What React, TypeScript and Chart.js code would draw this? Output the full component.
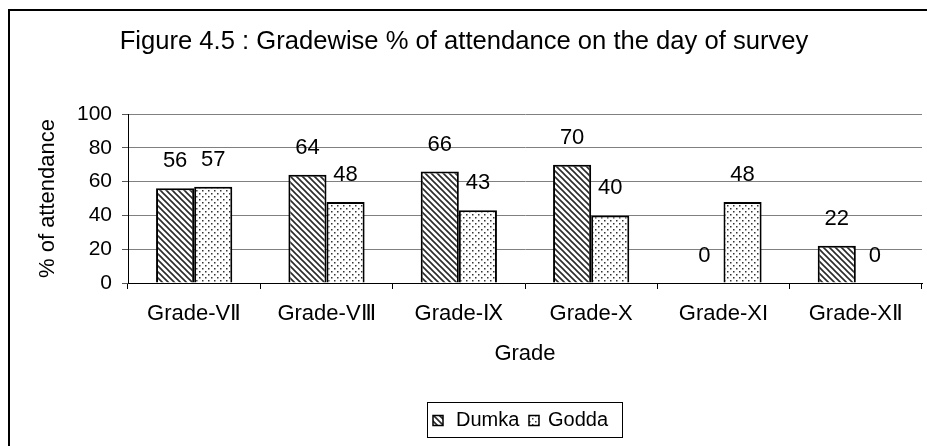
import React, { useEffect, useRef } from "react";
import { Chart, registerables } from "chart.js";

Chart.register(...registerables);

const categories = ["Grade-VⅡ", "Grade-VⅢ", "Grade-Ⅸ", "Grade-X", "Grade-XI", "Grade-XⅡ"];
const dumka = [56, 64, 66, 70, 0, 22];
const godda = [57, 48, 43, 40, 48, 0];
const seriesNames = ["Dumka", "Godda"];
const yTicks = [0, 20, 40, 60, 80, 100];
const titleText = "Figure 4.5 : Gradewise % of attendance on the day of survey";
const yTitle = "% of attendance";
const xTitle = "Grade";

const FONT = "'Liberation Sans', Arial, sans-serif";
const W = 927;
const H = 446;

function hatchPattern(): CanvasPattern {
  const s = 6;
  const c = document.createElement("canvas");
  c.width = s;
  c.height = s;
  const g = c.getContext("2d")!;
  g.fillStyle = "#fff";
  g.fillRect(0, 0, s, s);
  g.strokeStyle = "#2a2a2a";
  g.lineWidth = 1.6;
  g.beginPath();
  g.moveTo(-1, -1);
  g.lineTo(s + 1, s + 1);
  g.moveTo(-1, s - 1);
  g.lineTo(1, s + 1);
  g.moveTo(s - 1, -1);
  g.lineTo(s + 1, 1);
  g.stroke();
  return g.createPattern(c, "repeat")!;
}

function dotPattern(): CanvasPattern {
  const c = document.createElement("canvas");
  c.width = 6;
  c.height = 6;
  const g = c.getContext("2d")!;
  g.fillStyle = "#fff";
  g.fillRect(0, 0, 6, 6);
  g.fillStyle = "#333";
  g.fillRect(1, 1, 1.5, 1.5);
  g.fillRect(4, 4, 1.5, 1.5);
  return g.createPattern(c, "repeat")!;
}

const decorPlugin = {
  id: "decor",
  beforeDraw(chart: any) {
    const ctx: CanvasRenderingContext2D = chart.ctx;
    ctx.save();
    ctx.fillStyle = "#fff";
    ctx.fillRect(0, 0, chart.width, chart.height);
    ctx.restore();
  },
  afterDraw(chart: any) {
    const ctx: CanvasRenderingContext2D = chart.ctx;
    ctx.save();
    // outer frame (left and top edges)
    ctx.fillStyle = "#000";
    ctx.fillRect(8, 9, chart.width - 8, 2);
    ctx.fillRect(8, 9, 2, chart.height - 9);

    // title
    ctx.fillStyle = "#000";
    ctx.font = `25.6px ${FONT}`;
    ctx.textAlign = "center";
    ctx.textBaseline = "middle";
    ctx.fillText(titleText, 464, 42);

    // data labels
    ctx.font = `22px ${FONT}`;
    chart.data.datasets.forEach((ds: any, di: number) => {
      const meta = chart.getDatasetMeta(di);
      meta.data.forEach((bar: any, i: number) => {
        ctx.fillText(String(ds.data[i]), bar.x, bar.y - 27);
      });
    });

    // legend
    const bx = 427, by = 402, bw = 195, bh = 35;
    ctx.strokeStyle = "#000";
    ctx.lineWidth = 1;
    ctx.strokeRect(bx + 0.5, by + 0.5, bw, bh);
    const items = [
      { ix: 433, tx: 456 },
      { ix: 529, tx: 548 },
    ];
    ctx.font = `20px ${FONT}`;
    chart.data.datasets.forEach((ds: any, di: number) => {
      const it = items[di];
      const cy = by + bh / 2 + 1;
      ctx.fillStyle = ds.backgroundColor;
      ctx.fillRect(it.ix, cy - 5, 10, 10);
      ctx.lineWidth = 1.5;
      ctx.strokeRect(it.ix, cy - 5, 10, 10);
      ctx.fillStyle = "#000";
      ctx.textAlign = "left";
      ctx.fillText(ds.label, it.tx, cy);
    });
    ctx.restore();
  },
};

export default function App() {
  const ref = useRef<HTMLCanvasElement | null>(null);
  useEffect(() => {
    document.body.style.margin = "0";
    document.body.style.overflow = "hidden";
    if (!ref.current) return;
    Chart.defaults.font.family = FONT;
    const chart = new Chart(ref.current, {
      type: "bar",
      data: {
        labels: categories,
        datasets: [
          {
            label: seriesNames[0],
            data: dumka,
            backgroundColor: hatchPattern() as any,
            borderColor: "#000",
            borderWidth: 2,
            categoryPercentage: 0.576,
            barPercentage: 1,
          },
          {
            label: seriesNames[1],
            data: godda,
            backgroundColor: dotPattern() as any,
            borderColor: "#000",
            borderWidth: 2,
            categoryPercentage: 0.576,
            barPercentage: 1,
          },
        ],
      },
      options: {
        animation: false,
        responsive: false,
        maintainAspectRatio: false,
        layout: { padding: { top: 114, left: 35, right: 5, bottom: 79 } },
        plugins: {
          legend: { display: false },
          title: { display: false },
          tooltip: { enabled: false },
        },
        scales: {
          x: {
            offset: true,
            grid: {
              offset: true,
              drawOnChartArea: false,
              drawTicks: true,
              tickLength: 6,
              color: "#000",
            },
            border: { color: "#000", width: 1 },
            ticks: { color: "#000", font: { size: 22 }, padding: 12, maxRotation: 0 },
            title: {
              display: true,
              text: xTitle,
              color: "#000",
              font: { size: 22 },
              padding: 0,
            },
            afterFit: (s: any) => {
              s.height = 84;
            },
          },
          y: {
            min: 0,
            max: 100,
            afterBuildTicks: (s: any) => {
              s.ticks = yTicks.map((v) => ({ value: v }));
            },
            grid: { color: "#808080", tickLength: 6, tickColor: "#555" },
            border: { color: "#000", width: 1 },
            ticks: { color: "#000", font: { size: 21 }, padding: 10 },
            title: {
              display: true,
              text: yTitle,
              color: "#000",
              font: { size: 22 },
              padding: 0,
            },
            afterFit: (s: any) => {
              s.width = 93;
            },
          },
        },
      },
      plugins: [decorPlugin],
    });
    return () => chart.destroy();
  }, []);
  return (
    <div style={{ width: W, height: H }}>
      <canvas ref={ref} width={W} height={H} style={{ display: "block" }} />
    </div>
  );
}
